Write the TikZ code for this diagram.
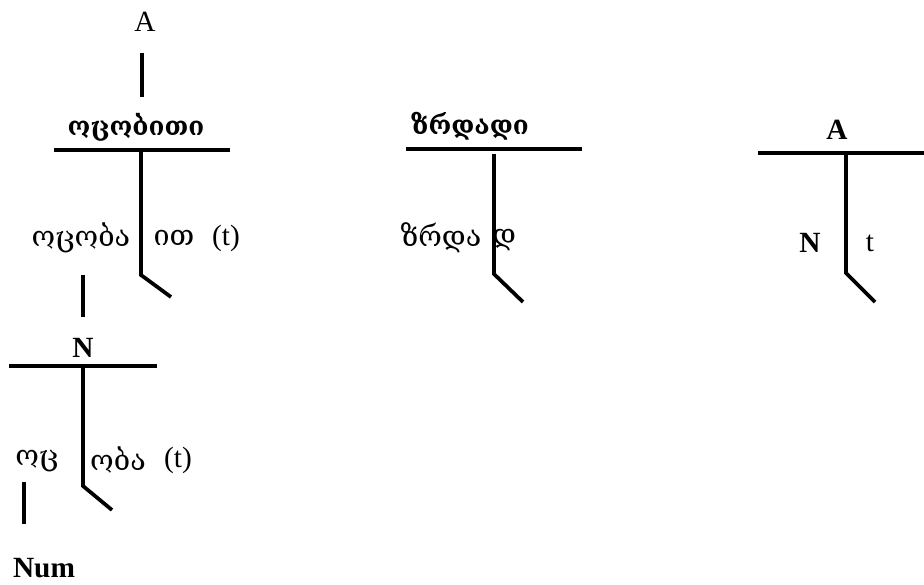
\documentclass[tikz,border=0pt]{standalone}
\usepackage{fontspec}
\setmainfont{Liberation Serif}
\newfontfamily\geo{DejaVu Serif}
\begin{document}
\begin{tikzpicture}[x=0.75pt,y=-0.75pt,
  ln/.style={line width=2.8pt},
  lbl/.style={font=\fontsize{22}{26}\selectfont, inner sep=0pt},
  blbl/.style={font=\fontsize{22}{26}\selectfont\bfseries, inner sep=0pt},
  glbl/.style={font=\geo\fontsize{21.5}{25}\selectfont, inner sep=0pt},
  gblbl/.style={font=\geo\fontsize{19.5}{23}\selectfont\bfseries, inner sep=0pt}]
\useasboundingbox (0,0) rectangle (924,585);
% tree 1
\node[lbl] (a1) at (145,22) {A};
\node[gblbl] (h1) at (136,127) {ოცობითი};
\node[glbl] (l1) at (81,238) {ოცობა};
\node[glbl] (r1) at (174,238) {ით};
\node[lbl] (t1) at (226,238) {(t)};
\coordinate (v1a) at (142,53); \coordinate (v1b) at (142,97);
\draw[ln] (v1a) -- (v1b);
\coordinate (h1l) at (54,150); \coordinate (h1r) at (230,150);
\draw[ln] (h1l) -- (h1r);
\coordinate (s1a) at (141,150); \coordinate (s1b) at (141,275); \coordinate (s1c) at (171,297);
\draw[ln] (s1a) -- (s1b) -- (s1c);
\coordinate (v2a) at (83,275); \coordinate (v2b) at (83,317);
\draw[ln] (v2a) -- (v2b);
% tree 2
\node[blbl] (n2) at (83,348) {N};
\node[glbl] (l2) at (37,461) {ოც};
\node[glbl] (r2) at (118,460) {ობა};
\node[lbl] (t2) at (178,460) {(t)};
\node[blbl] (num) at (44,568) {Num};
\coordinate (h2l) at (9,366); \coordinate (h2r) at (157,366);
\draw[ln] (h2l) -- (h2r);
\coordinate (s2a) at (83,366); \coordinate (s2b) at (83,486); \coordinate (s2c) at (112,510);
\draw[ln] (s2a) -- (s2b) -- (s2c);
\coordinate (v3a) at (24,482); \coordinate (v3b) at (24,524);
\draw[ln] (v3a) -- (v3b);
% tree 3
\node[gblbl] (h3) at (470,126) {ზრდადი};
\node[glbl] (l3) at (441,238) {ზრდა};
\node[glbl] (r3) at (504,240) {დ};
\coordinate (h3l) at (406,149); \coordinate (h3r) at (582,149);
\draw[ln] (h3l) -- (h3r);
\coordinate (s3a) at (494,154); \coordinate (s3b) at (494,274); \coordinate (s3c) at (523,302);
\draw[ln] (s3a) -- (s3b) -- (s3c);
% tree 4
\node[blbl] (a4) at (837,130) {A};
\node[blbl] (n4) at (810,243) {N};
\node[lbl] (t4) at (870,243) {t};
\coordinate (h4l) at (758,153); \coordinate (h4r) at (924,153);
\draw[ln] (h4l) -- (h4r);
\coordinate (s4a) at (846,153); \coordinate (s4b) at (846,273); \coordinate (s4c) at (875,302);
\draw[ln] (s4a) -- (s4b) -- (s4c);
\end{tikzpicture}
\end{document}
